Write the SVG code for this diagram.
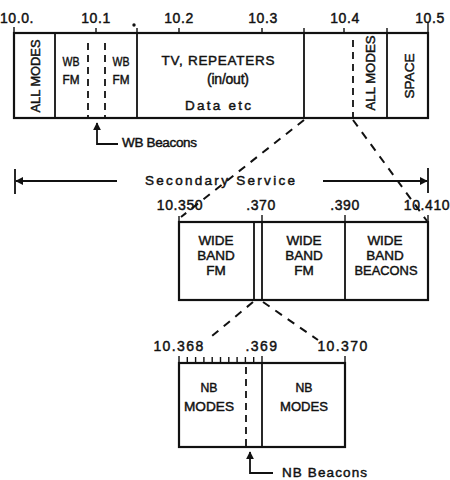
<svg xmlns="http://www.w3.org/2000/svg" width="450" height="480" viewBox="0 0 450 480">
<defs>
<marker id="ah" viewBox="0 0 10 10" refX="9" refY="5" markerWidth="8" markerHeight="8" markerUnits="userSpaceOnUse" orient="auto-start-reverse"><path d="M0,0 L10,5 L0,10 z" fill="#111"/></marker>
</defs>
<style>
.box{fill:none;stroke:#111;stroke-width:2.2}
.dv{stroke:#111;stroke-width:1.8;fill:none}
.tk{stroke:#111;stroke-width:1.4;fill:none}
.dash{stroke:#111;stroke-width:1.8;stroke-dasharray:7 5;fill:none}
.lead{stroke:#111;stroke-width:2;stroke-dasharray:8 7;fill:none}
.ln{stroke:#111;stroke-width:1.8;fill:none}
text{font-family:"Liberation Sans",Arial,sans-serif;fill:#111;stroke:#111;stroke-width:0.45px;font-size:13.5px}
.c{text-anchor:middle}
.sc{font-size:14px;letter-spacing:0.6px}
</style>
<rect width="450" height="480" fill="#fff"/>

<g id="top-scale">
<text x="17" y="23" class="c sc">10.0.</text>
<text x="96" y="23" class="c sc">10.1</text>
<text x="179" y="23" class="c sc">10.2</text>
<text x="263" y="23" class="c sc">10.3</text>
<text x="345" y="23" class="c sc">10.4</text>
<text x="430" y="23" class="c sc">10.5</text>
<circle cx="134" cy="25" r="1.7" fill="#111"/>
<path class="tk" d="M14,27V33 M96,28V33 M179,28V33 M262,28V33 M344,28V33 M428,22V33 M137,28V33 M304,28V33 M387,28V33"/>
</g>

<g id="top-band">
<rect class="box" x="14" y="33" width="414" height="85"/>
<path class="dv" d="M55,33V118 M137,33V118 M304,33V118 M387,33V118"/>
<path class="dash" d="M88,43V118 M105,43V118 M353,40V118"/>
<text transform="translate(39.5,76) rotate(-90)" class="c" textLength="73" lengthAdjust="spacingAndGlyphs">ALL MODES</text>
<text x="71" y="66" class="c" textLength="17" lengthAdjust="spacingAndGlyphs">WB</text>
<text x="71" y="84" class="c" textLength="17" lengthAdjust="spacingAndGlyphs">FM</text>
<text x="121" y="66" class="c" textLength="17" lengthAdjust="spacingAndGlyphs">WB</text>
<text x="121" y="84" class="c" textLength="17" lengthAdjust="spacingAndGlyphs">FM</text>
<text x="218" y="65" class="c" textLength="113" lengthAdjust="spacing">TV, REPEATERS</text>
<text x="228" y="84" class="c" style="font-size:14px" textLength="42" lengthAdjust="spacing">(in/out)</text>
<text x="218" y="110" class="c" textLength="66" lengthAdjust="spacing">Data etc</text>
<text transform="translate(375,73) rotate(-90)" class="c" textLength="75" lengthAdjust="spacingAndGlyphs">ALL MODES</text>
<text transform="translate(414,76) rotate(-90)" class="c" textLength="45" lengthAdjust="spacingAndGlyphs">SPACE</text>
</g>

<g id="wb-beacons">
<text x="122" y="147" textLength="75" lengthAdjust="spacing">WB Beacons</text>
</g>

<g id="secondary-service">
<path class="ln" d="M15,169V194 M428,168V193"/>
<text x="145" y="185" textLength="150" lengthAdjust="spacing">Secondary Service</text>
</g>

<g id="mid-scale">
<text x="180" y="210" class="c sc">10.350</text>
<text x="261" y="210" class="c sc">.370</text>
<text x="345" y="210" class="c sc">.390</text>
<text x="427" y="210" class="c sc">10.410</text>
<path class="tk" d="M179,216V222 M262,215V222 M345,215V222 M428,215V222"/>
</g>

<g id="mid-band">
<rect class="box" x="179" y="222" width="249" height="78"/>
<path class="dv" d="M254,222V300 M262,222V300 M345,222V300"/>
<text x="216" y="245" class="c">WIDE</text>
<text x="216" y="260" class="c">BAND</text>
<text x="216" y="275" class="c">FM</text>
<text x="304" y="245" class="c">WIDE</text>
<text x="304" y="260" class="c">BAND</text>
<text x="304" y="275" class="c">FM</text>
<text x="385" y="245" class="c">WIDE</text>
<text x="385" y="260" class="c">BAND</text>
<text x="386" y="275" class="c" textLength="63" lengthAdjust="spacingAndGlyphs">BEACONS</text>
</g>

<g id="low-scale">
<text x="179" y="351" class="c sc" style="letter-spacing:1.4px">10.368</text>
<text x="262" y="351" class="c sc" style="letter-spacing:1.4px">.369</text>
<text x="343" y="351" class="c sc" style="letter-spacing:1.4px">10.370</text>
<path class="tk" d="M179,356V363 M187.3,357V363 M195.6,357V363 M203.9,357V363 M212.2,357V363 M220.5,357V363 M228.8,357V363 M237.1,357V363 M245.4,357V363 M253.7,357V363 M262,356V363 M345,356V363"/>
</g>

<g id="low-band">
<rect class="box" x="179" y="363" width="166" height="84"/>
<path class="dv" d="M262,363V447"/>
<path class="dash" d="M246,367V447"/>
<text x="209" y="392" class="c" textLength="17" lengthAdjust="spacingAndGlyphs">NB</text>
<text x="209" y="411" class="c" textLength="50" lengthAdjust="spacingAndGlyphs">MODES</text>
<text x="304" y="392" class="c" textLength="17" lengthAdjust="spacingAndGlyphs">NB</text>
<text x="304" y="411" class="c" textLength="48" lengthAdjust="spacingAndGlyphs">MODES</text>
</g>

<g id="nb-beacons">
<text x="282" y="477" textLength="85" lengthAdjust="spacing">NB Beacons</text>
</g>

<g id="connectors">
<path class="lead" d="M304,120L181,217"/>
<path class="lead" d="M353,120L427,221"/>
<path class="lead" d="M253,302L212,336"/>
<path class="lead" d="M263,302L318,340"/>
<path class="ln" d="M118,144H97V123" marker-end="url(#ah)"/>
<path class="ln" d="M273,473H250V452" marker-end="url(#ah)"/>
<path class="ln" d="M117,181H16" marker-end="url(#ah)"/>
<path class="ln" d="M323,181H427" marker-end="url(#ah)"/>
</g>
</svg>
